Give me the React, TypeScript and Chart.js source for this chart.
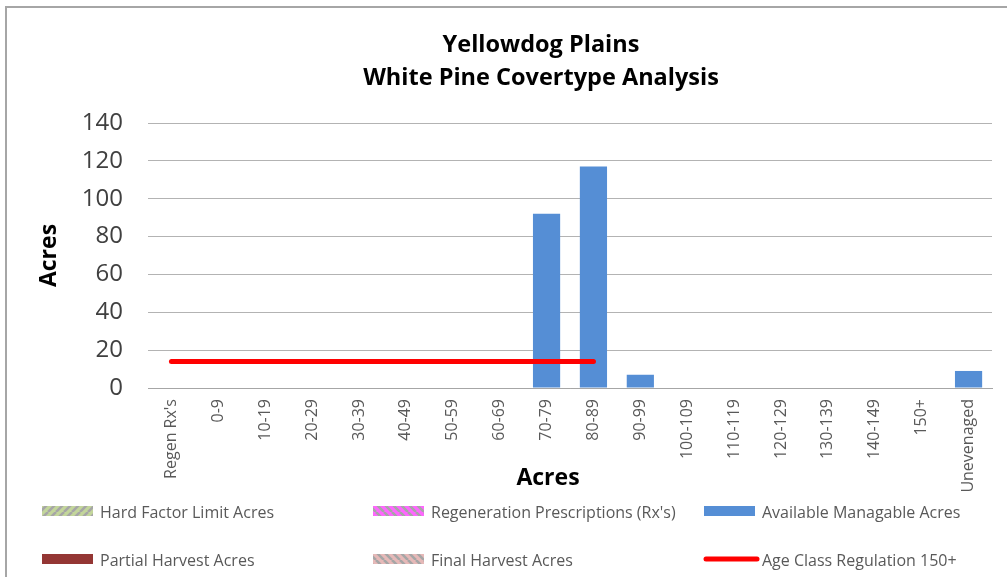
import React, { useEffect, useRef } from "react";
import { Chart, registerables } from "chart.js";
Chart.register(...registerables);

const chartTitle = ["Yellowdog Plains", "White Pine Covertype Analysis"];
const xAxisTitle = "Acres";
const yAxisTitle = "Acres";
const categories = [
  "Regen Rx's", "0-9", "10-19", "20-29", "30-39", "40-49", "50-59", "60-69", "70-79",
  "80-89", "90-99", "100-109", "110-119", "120-129", "130-139", "140-149", "150+", "Unevenaged",
];
const hardFactorLimitAcres = [0, 0, 0, 0, 0, 0, 0, 0, 0, 0, 0, 0, 0, 0, 0, 0, 0, 0];
const regenerationRxAcres = [0, 0, 0, 0, 0, 0, 0, 0, 0, 0, 0, 0, 0, 0, 0, 0, 0, 0];
const availableManagableAcres = [0, 0, 0, 0, 0, 0, 0, 0, 92, 117, 7, 0, 0, 0, 0, 0, 0, 9];
const partialHarvestAcres = [0, 0, 0, 0, 0, 0, 0, 0, 0, 0, 0, 0, 0, 0, 0, 0, 0, 0];
const finalHarvestAcres = [0, 0, 0, 0, 0, 0, 0, 0, 0, 0, 0, 0, 0, 0, 0, 0, 0, 0];
const ageClassRegulation150 = [14, 14, 14, 14, 14, 14, 14, 14, 14, 14, null, null, null, null, null, null, null, null];
const yTicks = [0, 20, 40, 60, 80, 100, 120, 140];

const FONT = "'Open Sans', Lato, sans-serif";

function makePattern(base: string, stripe: string, forward: boolean): CanvasPattern | string {
  const c = document.createElement("canvas");
  const s = 8;
  c.width = s;
  c.height = s;
  const g = c.getContext("2d");
  if (!g) return base;
  g.fillStyle = base;
  g.fillRect(0, 0, s, s);
  g.strokeStyle = stripe;
  g.lineWidth = 2.6;
  g.beginPath();
  if (forward) {
    for (let k = -1; k <= 1; k++) {
      g.moveTo(k * s, s);
      g.lineTo(k * s + s, 0);
    }
  } else {
    for (let k = -1; k <= 1; k++) {
      g.moveTo(k * s, 0);
      g.lineTo(k * s + s, s);
    }
  }
  g.stroke();
  const p = g.createPattern(c, "repeat");
  return p || base;
}

const textPlugin = {
  id: "customText",
  afterDraw(chart: any) {
    const ctx = chart.ctx as CanvasRenderingContext2D;
    const ds = chart.data.datasets as any[];
    ctx.save();
    // chart title
    ctx.fillStyle = "#000000";
    ctx.font = `bold 23.5px ${FONT}`;
    ctx.textAlign = "center";
    ctx.textBaseline = "middle";
    chartTitle.forEach((t, i) => ctx.fillText(t, 541, 45 + i * 33));
    // x axis title
    ctx.font = `bold 23px ${FONT}`;
    ctx.fillText(xAxisTitle, 548, 478);
    // legend
    const colX = [42, 373, 704];
    const rowY = [512, 560];
    ctx.font = `16px ${FONT}`;
    ctx.textAlign = "left";
    ds.forEach((d, i) => {
      const x = colX[i % 3];
      const y = rowY[Math.floor(i / 3)];
      if (d.type === "line") {
        ctx.strokeStyle = d.borderColor;
        ctx.lineWidth = 5;
        ctx.lineCap = "round";
        ctx.beginPath();
        ctx.moveTo(x + 2, y - 1);
        ctx.lineTo(x + 53, y - 1);
        ctx.stroke();
      } else {
        ctx.fillStyle = d.backgroundColor;
        ctx.fillRect(x, y - 6, 51, 10);
      }
      ctx.fillStyle = "#595959";
      ctx.fillText(d.label, x + 58, y + 1);
    });
    ctx.restore();
  },
};

export default function App() {
  const ref = useRef<HTMLCanvasElement | null>(null);
  useEffect(() => {
    if (!ref.current) return;
    const hardPat = makePattern("#c3d69b", "#a6a6a6", true);
    const regenPat = makePattern("#ff66ff", "#a6a6a6", false);
    const finalPat = makePattern("#e6b9b8", "#a6a6a6", false);
    const chart = new Chart(ref.current, {
      type: "bar",
      data: {
        labels: categories,
        datasets: [
          { type: "bar", label: "Hard Factor Limit Acres", data: hardFactorLimitAcres, backgroundColor: hardPat as any, borderWidth: 0, stack: "s" },
          { type: "bar", label: "Regeneration Prescriptions (Rx's)", data: regenerationRxAcres, backgroundColor: regenPat as any, borderWidth: 0, stack: "s" },
          { type: "bar", label: "Available Managable Acres", data: availableManagableAcres, backgroundColor: "#558ed5", borderWidth: 0, stack: "s" },
          { type: "bar", label: "Partial Harvest Acres", data: partialHarvestAcres, backgroundColor: "#943634", borderWidth: 0, stack: "s" },
          { type: "bar", label: "Final Harvest Acres", data: finalHarvestAcres, backgroundColor: finalPat as any, borderWidth: 0, stack: "s" },
          {
            type: "line", label: "Age Class Regulation 150+", data: ageClassRegulation150 as any,
            borderColor: "#ff0000", backgroundColor: "#ff0000", borderWidth: 5, pointRadius: 0,
            borderCapStyle: "round", spanGaps: false, stack: "line", order: -1,
          } as any,
        ],
      },
      options: {
        animation: false,
        responsive: false,
        maintainAspectRatio: false,
        layout: { padding: { left: 6, right: 15, top: 123, bottom: 82 } },
        datasets: { bar: { barPercentage: 0.58, categoryPercentage: 1 } },
        plugins: {
          legend: { display: false },
          tooltip: { enabled: false },
          title: { display: false },
        },
        scales: {
          x: {
            stacked: true,
            grid: { display: false, drawTicks: false },
            border: { display: true, color: "#a6a6a6", width: 1 },
            ticks: {
              autoSkip: false, maxRotation: 90, minRotation: 90, padding: 11,
              color: "#595959", font: { family: FONT, size: 16 },
            },
            afterFit: (s: any) => { s.height = 107; },
          },
          y: {
            stacked: true,
            min: 0, max: 140,
            afterBuildTicks: (s: any) => { s.ticks = yTicks.map((v) => ({ value: v })); },
            grid: { color: "#b3b3b3", drawTicks: false, lineWidth: 1 },
            border: { display: false },
            ticks: { padding: 25, color: "#404040", font: { family: FONT, size: 24 } },
            title: {
              display: true, text: yAxisTitle, color: "#000000",
              font: { family: FONT, size: 23, weight: "bold" }, padding: { top: 30, bottom: 0 },
            },
            afterFit: (s: any) => { s.width = 142; },
          },
        },
      },
      plugins: [textPlugin],
    });
    return () => chart.destroy();
  }, []);
  return (
    <div style={{ position: "fixed", left: 0, top: 0, width: 1007, height: 577, background: "#ffffff" }}>
      <div style={{ position: "absolute", left: 5, top: 6, right: 0, bottom: 0, borderTop: "2px solid #a6a6a6", borderLeft: "2px solid #a6a6a6" }} />
      <canvas ref={ref} width={1007} height={577} style={{ position: "absolute", left: 0, top: 0, width: 1007, height: 577 }} />
    </div>
  );
}
